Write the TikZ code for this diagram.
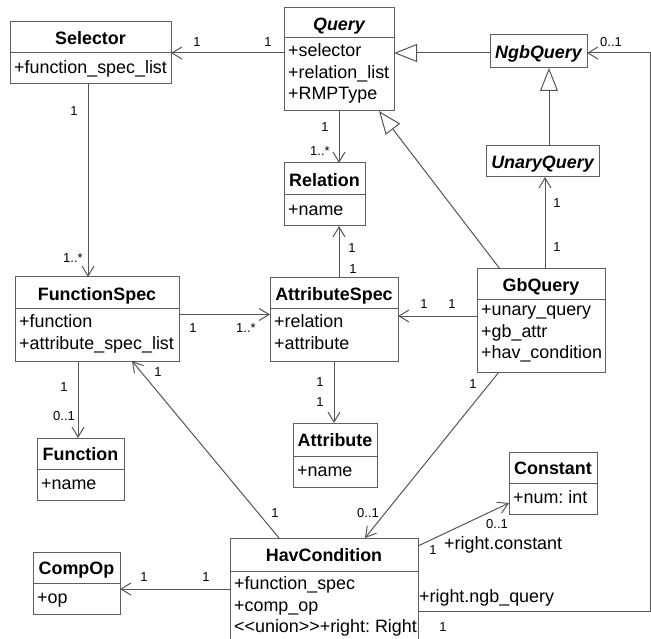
\documentclass[tikz,border=0pt]{standalone}
\usepackage{fontspec}
\setmainfont{Liberation Sans}
\usetikzlibrary{arrows.meta,calc}
\frenchspacing
\definecolor{ln}{RGB}{85,85,85}
\definecolor{bx}{RGB}{95,95,95}
\tikzset{
  clsbox/.style={draw=bx,line width=1pt,inner sep=0pt,outer sep=0pt},
  clsline/.style={draw=bx,line width=1pt},
  ttl/.style={anchor=base,inner sep=0pt,font=\fontsize{17.9}{21.5}\selectfont\bfseries},
  attr/.style={anchor=north west,align=left,inner sep=0pt,font=\fontsize{17.9}{21.5}\selectfont,execute at begin node=\strut},
  mult/.style={inner sep=0pt,font=\fontsize{13}{15}\selectfont},
  role/.style={anchor=base west,inner sep=0pt,font=\fontsize{17.9}{21.5}\selectfont},
  assoc/.style={draw=ln,line width=1pt,-{Straight Barb[length=10pt,width=12pt,line width=1pt]}},
  gen/.style={draw=ln,line width=1pt,-{Triangle[length=23pt,width=18pt,fill=white,line width=1pt]}}
}
% name x1 y1 x2 y2 ydiv title attrs
\newcommand\umlclass[8]{%
  \node[clsbox,minimum width={(#4-#2)*1pt},minimum height={(#5-#3)*1pt}] (#1) at ({(#2+#4)/2},{(#3+#5)/2}) {};
  \draw[clsline] (#2,#6) -- (#4,#6);
  \node[ttl] (#1-t) at ({(#2+#4)/2},{(#3+#6)/2+7.4}) {#7};
  \node[attr] (#1-a) at ({#2+4},{#6+20.5-15.05}) {#8};
}
% name x1 y1 x2 y2 title
\newcommand\umlonly[6]{%
  \node[clsbox,minimum width={(#4-#2)*1pt},minimum height={(#5-#3)*1pt}] (#1) at ({(#2+#4)/2},{(#3+#5)/2}) {};
  \node[ttl] (#1-t) at ({(#2+#4)/2},{(#3+#5)/2+7.4}) {#6};
}
\begin{document}
\begin{tikzpicture}[x=1pt,y=-1pt]
\useasboundingbox (0,0) rectangle (651,639);
\umlclass{sel}{10}{22}{171}{84}{53}{Selector}{+function\_spec\_list}
\umlclass{query}{284}{8}{394}{111}{38}{\itshape Query}{+selector\\+relation\_list\\+RMPType}
\umlonly{ngb}{490}{35}{587}{68}{\itshape NgbQuery}
\umlonly{unary}{486}{146}{599}{177}{\itshape UnaryQuery}
\umlclass{rel}{284}{163}{365}{226}{195}{Relation}{+name}
\umlclass{fs}{15}{277}{179}{361}{309}{FunctionSpec}{+function\\+attribute\_spec\_list}
\umlclass{as}{270}{278}{398}{361}{309}{AttributeSpec}{+relation\\+attribute}
\umlclass{gb}{477}{269}{605}{372}{300}{GbQuery}{+unary\_query\\+gb\_attr\\+hav\_condition}
\umlclass{fn}{37}{438}{124}{500}{469}{Function}{+name}
\umlclass{attr}{293}{423}{377}{487}{456}{Attribute}{+name}
\umlclass{const}{509}{452}{597}{514}{483}{Constant}{+num: int}
\umlclass{comp}{33}{552}{120}{614}{583}{CompOp}{+op}
\umlclass{hav}{230}{538}{418}{646}{571}{HavCondition}{+function\_spec\\+comp\_op\\<\kern0pt<union>\kern0pt>+right: Right}

% connectors
\draw[assoc] (query.west |- sel.east) -- (sel.east);
\draw[gen] (ngb.west |- sel.east) -- (query.east |- sel.east);
\draw[gen] ([xshift=6.5pt]unary.north) -- ([xshift=6.5pt]unary.north |- ngb.south);
\draw[gen] ([xshift=23pt]gb.north west) -- ([xshift=40pt]query.south);
\draw[assoc] (query.south) -- (query.south |- rel.north);
\draw[assoc] (query.south |- as.north) -- (query.south |- rel.south);
\draw[assoc] ([xshift=-1pt]attr.north |- as.south) -- ([xshift=-1pt]attr.north);
\draw[assoc] ([xshift=-2.5pt]sel.south) -- ([xshift=-2.5pt]sel.south |- fs.north);
\draw[assoc] ([yshift=4.5pt]fs.east) -- ([yshift=4.5pt]fs.east -| as.west);
\draw[assoc] ([yshift=4.5pt]gb.west) -- ([yshift=4.5pt]gb.west -| as.east);
\draw[assoc] ([xshift=4pt]gb.north) -- ([xshift=4pt]gb.north |- unary.south);
\draw[assoc] ([xshift=-2.5pt]fn.north |- fs.south) -- ([xshift=-2.5pt]fn.north);
\draw[assoc] ([xshift=-45pt]hav.north) -- ([xshift=35pt]fs.south);
\draw[assoc] ([xshift=-42pt]gb.south) -- ([xshift=41pt]hav.north);
\draw[assoc] ([yshift=-8pt]hav.north east) -- ([yshift=-20pt]const.west);
\coordinate (rc) at (650,53);
\draw[assoc] ([yshift=-73pt]hav.north east) -| (rc) -- (ngb.east |- rc);
\draw[assoc] ([yshift=-51pt]hav.north west) -- ([yshift=-51pt]hav.north west -| comp.east);

% multiplicities
\node[mult] (m1) at (197,42) {1};
\node[mult] (m2) at (268,42) {1};
\node[mult] (m3) at (611,42) {0..1};
\node[mult] (m4) at (74,111) {1};
\node[mult] (m5) at (325,127) {1};
\node[mult] (m6) at (320,151) {1..*};
\node[mult] (m7) at (73,258) {1..*};
\node[mult] (m8) at (557,203) {1};
\node[mult] (m9) at (557,247) {1};
\node[mult] (m10) at (352,248) {1};
\node[mult] (m11) at (353,269) {1};
\node[mult] (m12) at (424,304) {1};
\node[mult] (m13) at (452,304) {1};
\node[mult] (m14) at (193,328) {1};
\node[mult] (m15) at (246,328) {1..*};
\node[mult] (m16) at (158,372) {1};
\node[mult] (m17) at (320,382) {1};
\node[mult] (m18) at (320,402) {1};
\node[mult] (m19) at (473,384) {1};
\node[mult] (m20) at (64,387) {1};
\node[mult] (m21) at (64,416) {0..1};
\node[mult] (m22) at (275,513) {1};
\node[mult] (m23) at (368,513) {0..1};
\node[mult] (m24) at (497,524) {0..1};
\node[mult] (m25) at (433,550) {1};
\node[mult] (m26) at (144,577) {1};
\node[mult] (m27) at (206,577) {1};
\node[mult] (m28) at (443,627) {1};
% role names
\node[role] (r1) at (444,549) {+right.constant};
\node[role] (r2) at (419,602) {+right.ngb\_query};
\end{tikzpicture}
\end{document}
